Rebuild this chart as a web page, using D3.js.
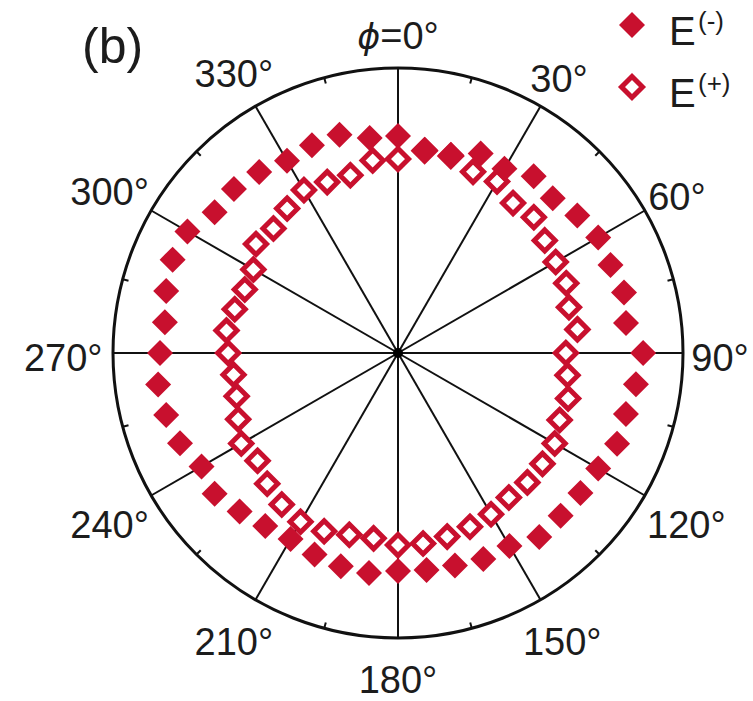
<!DOCTYPE html>
<html>
<head>
<meta charset="utf-8">
<script src="https://cdn.jsdelivr.net/npm/d3@7"></script>
<style>
  html, body { margin: 0; padding: 0; background: #ffffff; }
  svg { display: block; }
  text { font-family: "Liberation Sans", Arial, "Helvetica", sans-serif; fill: #1c1c1c; }
</style>
</head>
<body>
<svg id="chart" width="753" height="701"></svg>
<script>
// Azimuthal angle of each sample (degrees, clockwise from the top)
const phi = [
  0, 7.5, 15, 22.5, 30, 37.5, 45, 52.5, 60, 67.5, 75, 82.5,
  90, 97.5, 105, 112.5, 120, 127.5, 135, 142.5, 150, 157.5, 165, 172.5,
  180, 187.5, 195, 202.5, 210, 217.5, 225, 232.5, 240, 247.5, 255, 262.5,
  270, 277.5, 285, 292.5, 300, 307.5, 315, 322.5, 330, 337.5, 345, 352.5
];

// E(-) radial values (outer ring = 1)
const eMinus = [
  0.761, 0.719, 0.719, 0.758, 0.747, 0.782, 0.768, 0.793, 0.811, 0.807, 0.821, 0.807,
  0.860, 0.842, 0.828, 0.832, 0.811, 0.807, 0.807, 0.814, 0.782, 0.782, 0.772, 0.768,
  0.765, 0.779, 0.775, 0.765, 0.754, 0.765, 0.786, 0.811, 0.796, 0.828, 0.842, 0.849,
  0.835, 0.825, 0.842, 0.856, 0.853, 0.811, 0.814, 0.800, 0.779, 0.789, 0.793, 0.761
];

// E(+) radial values (outer ring = 1)
const ePlus = [
  0.681, 0.716, 0.716, 0.688, 0.695, 0.663, 0.674, 0.649, 0.639, 0.639, 0.621, 0.635,
  0.589, 0.600, 0.618, 0.614, 0.635, 0.639, 0.642, 0.639, 0.653, 0.660, 0.667, 0.674,
  0.674, 0.656, 0.660, 0.677, 0.684, 0.670, 0.649, 0.621, 0.635, 0.607, 0.586, 0.582,
  0.596, 0.607, 0.593, 0.582, 0.586, 0.628, 0.618, 0.639, 0.660, 0.649, 0.646, 0.681
];

// Angular grid: spokes every 30°, minor ticks halfway between
const spokeAngles = [0, 30, 60, 90, 120, 150, 180, 210, 240, 270, 300, 330];
const spokeLabels = ["=0°", "30°", "60°", "90°", "120°", "150°", "180°", "210°", "240°", "270°", "300°", "330°"];
const minorAngles = [15, 45, 75, 105, 135, 165, 195, 225, 255, 285, 315, 345];

const seriesNames = ["E", "E"];
const seriesSup = ["(-)", "(+)"];

const red = "#c8102e";
const svg = d3.select("#chart");
const cx = 398, cy = 353, outerR = 285;

const rScale = d3.scaleLinear().domain([0, 1]).range([0, outerR]);
const aScale = d3.scaleLinear().domain([0, 360]).range([0, 2 * Math.PI]);

const g = svg.append("g").attr("transform", `translate(${cx},${cy})`);

// spokes
g.selectAll("line.spoke").data(spokeAngles).join("line")
  .attr("class", "spoke")
  .attr("x1", 0).attr("y1", 0)
  .attr("x2", d => d3.pointRadial(aScale(d), rScale(1))[0])
  .attr("y2", d => d3.pointRadial(aScale(d), rScale(1))[1])
  .attr("stroke", "#111").attr("stroke-width", 2);

// minor ticks on the outer ring
g.selectAll("line.minor").data(minorAngles).join("line")
  .attr("class", "minor")
  .attr("x1", d => d3.pointRadial(aScale(d), rScale(1))[0])
  .attr("y1", d => d3.pointRadial(aScale(d), rScale(1))[1])
  .attr("x2", d => d3.pointRadial(aScale(d), rScale(1) - 6)[0])
  .attr("y2", d => d3.pointRadial(aScale(d), rScale(1) - 6)[1])
  .attr("stroke", "#111").attr("stroke-width", 2);

// outer ring
g.append("circle").attr("r", rScale(1))
  .attr("fill", "none").attr("stroke", "#111").attr("stroke-width", 3);

// centre dot
g.append("circle").attr("r", 5).attr("fill", "#000");

// diamond markers
const diamond = h => `M0,${-h}L${h},0L0,${h}L${-h},0Z`;

const plusPts = phi.map((p, i) => ({ a: p, r: ePlus[i] }));
const minusPts = phi.map((p, i) => ({ a: p, r: eMinus[i] }));

g.selectAll("path.eplus").data(plusPts).join("path")
  .attr("class", "eplus")
  .attr("d", diamond(10.5))
  .attr("transform", d => `translate(${d3.pointRadial(aScale(d.a), rScale(d.r))})`)
  .attr("fill", "#fff").attr("stroke", red).attr("stroke-width", 5)
  .attr("stroke-linejoin", "miter");

g.selectAll("path.eminus").data(minusPts).join("path")
  .attr("class", "eminus")
  .attr("d", diamond(13))
  .attr("transform", d => `translate(${d3.pointRadial(aScale(d.a), rScale(d.r))})`)
  .attr("fill", red);

// angle labels
const fs = 38;
spokeAngles.forEach((ang, i) => {
  const t = svg.append("text")
    .attr("font-size", fs)
    .attr("text-anchor", "middle");
  if (ang === 0) {
    t.append("tspan").attr("font-style", "italic")
      .attr("font-family", "'DejaVu Sans', 'Liberation Sans', sans-serif")
      .attr("font-size", fs * 0.92)
      .text("ϕ");
    t.append("tspan").text(spokeLabels[i]);
  } else {
    t.text(spokeLabels[i]);
  }
  const w = t.node().getBBox().width;
  const a = aScale(ang);
  const rl = 322 + Math.max(0, w / 2 - 28.7) * 1.2 * Math.abs(Math.sin(a));
  const [px, py] = d3.pointRadial(a, rl);
  t.attr("x", cx + px).attr("y", 357.5 + py + fs * 0.358);
});

// panel tag
svg.append("text").attr("x", 82).attr("y", 63).attr("font-size", 50).text("(b)");

// legend
const legY = [25, 87];
seriesNames.forEach((name, i) => {
  const lg = svg.append("g").attr("transform", `translate(632,${legY[i]})`);
  if (i === 0) {
    lg.append("path").attr("d", diamond(13)).attr("fill", red);
  } else {
    lg.append("path").attr("d", diamond(10.5))
      .attr("fill", "#fff").attr("stroke", red).attr("stroke-width", 5);
  }
  lg.append("text").attr("x", 37).attr("y", 20).attr("font-size", 40).text(name);
  lg.append("text").attr("x", 66).attr("y", 5).attr("font-size", 26).text(seriesSup[i]);
});
</script>
</body>
</html>
